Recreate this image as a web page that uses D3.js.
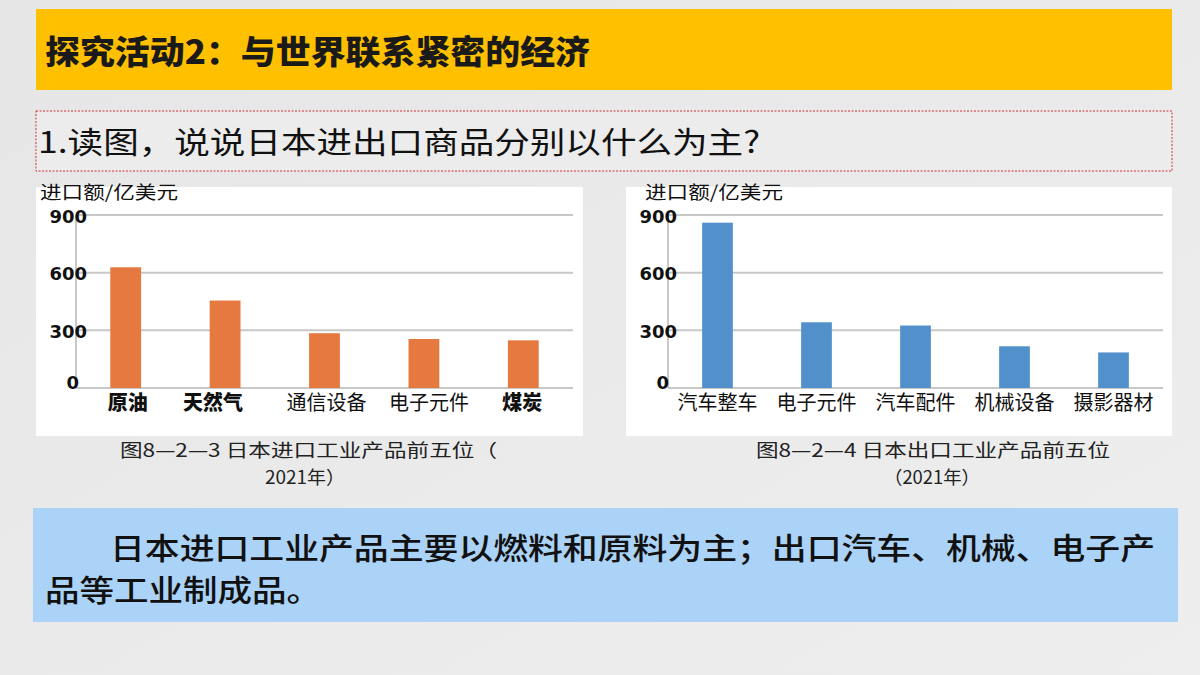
<!DOCTYPE html>
<html>
<head>
<meta charset="utf-8">
<script src="https://cdn.jsdelivr.net/npm/d3@7"></script>
<style>
  html, body { margin: 0; padding: 0; background: #ebebeb; }
  svg { display: block; }
</style>
</head>
<body>
<svg id="chart" width="1200" height="675"></svg>
<script>
// ---------- data ----------
const titleText = "探究活动2：与世界联系紧密的经济";
const questionText = "1.读图，说说日本进出口商品分别以什么为主?";
const yAxisTitle = "进口额/亿美元";
const yTicks = [0, 300, 600, 900];

const importCategories = ["原油", "天然气", "通信设备", "电子元件", "煤炭"];
const importValues = [628, 455, 285, 255, 248];
const importBold = [true, true, false, false, true];

const exportCategories = ["汽车整车", "电子元件", "汽车配件", "机械设备", "摄影器材"];
const exportValues = [860, 342, 325, 217, 185];

const importCaption = ["图8—2—3 日本进口工业产品前五位（", "2021年）"];
const exportCaption = ["图8—2—4 日本出口工业产品前五位", "（2021年）"];
const answerLines = ["日本进口工业产品主要以燃料和原料为主；出口汽车、机械、电子产", "品等工业制成品。"];

// ---------- drawing ----------
const svg = d3.select("#chart");
const CJK = "'Noto Sans CJK SC', 'Noto Sans', sans-serif";

// background gradient
const defs = svg.append("defs");
const bg = defs.append("linearGradient").attr("id", "bg").attr("x1", 0).attr("y1", 0).attr("x2", 1).attr("y2", 1);
bg.append("stop").attr("offset", "0%").attr("stop-color", "#e6e6e6");
bg.append("stop").attr("offset", "100%").attr("stop-color", "#eeeeee");
svg.append("rect").attr("width", 1200).attr("height", 675).attr("fill", "url(#bg)");

// title bar
svg.append("rect").attr("x", 36).attr("y", 9).attr("width", 1136).attr("height", 81).attr("fill", "#FFC000");
svg.append("text").attr("x", 45).attr("y", 64)
  .attr("font-family", CJK).attr("font-weight", 900).attr("font-size", 33)
  .attr("fill", "#1a1a1a").attr("textLength", 545).attr("lengthAdjust", "spacingAndGlyphs")
  .text(titleText);

// question box
svg.append("rect").attr("x", 36).attr("y", 111).attr("width", 1136).attr("height", 60)
  .attr("fill", "#ececec").attr("stroke", "#d0303a").attr("stroke-width", 1).attr("stroke-dasharray", "2,1.5");
svg.append("text").attr("x", 38).attr("y", 153)
  .attr("font-family", CJK).attr("font-size", 30).attr("fill", "#111")
  .attr("textLength", 722).attr("lengthAdjust", "spacingAndGlyphs")
  .text(questionText);

function drawChart(opts) {
  const g = svg.append("g");
  // panel
  g.append("rect").attr("x", opts.panel[0]).attr("y", 187).attr("width", opts.panel[1] - opts.panel[0]).attr("height", 249)
    .attr("fill", "#ffffff");

  const x = d3.scaleBand().domain(opts.categories).range([opts.plot[0], opts.plot[1]]).padding(0);
  const y = d3.scaleLinear().domain([0, 900]).range([388, 215]);

  // gridlines
  g.append("g").selectAll("line").data(yTicks).join("line")
    .attr("x1", opts.plot[0]).attr("x2", opts.plot[1])
    .attr("y1", d => y(d)).attr("y2", d => y(d))
    .attr("stroke", "#c8c8c8").attr("stroke-width", 2);
  // y axis line
  g.append("line").attr("x1", opts.plot[0]).attr("x2", opts.plot[0])
    .attr("y1", y(900)).attr("y2", y(0)).attr("stroke", "#c8c8c8").attr("stroke-width", 2);

  // y axis tick labels via d3 axis
  const axis = d3.axisLeft(y).tickValues(yTicks).tickSize(0).tickPadding(0);
  const ag = g.append("g").attr("transform", `translate(${opts.tickX},0)`).call(axis);
  ag.select(".domain").remove();
  ag.selectAll("text")
    .attr("font-family", "'DejaVu Sans', sans-serif").attr("font-weight", "bold").attr("font-size", 18)
    .attr("fill", "#111")
    .attr("dy", d => d === 0 ? "0.05em" : "0.4em")
    .attr("dx", d => d === 0 ? -8 : 0);

  // bars
  const bw = x.bandwidth() * 0.31;
  g.append("g").selectAll("rect").data(opts.values).join("rect")
    .attr("x", (d, i) => x(opts.categories[i]) + x.bandwidth() / 2 - bw / 2)
    .attr("width", bw)
    .attr("y", d => y(d))
    .attr("height", d => y(0) - y(d))
    .attr("fill", opts.color);

  // category labels
  g.append("g").selectAll("text").data(opts.categories).join("text")
    .attr("x", (d, i) => x(d) + x.bandwidth() / 2 + (opts.labelDx ? opts.labelDx[i] : 0))
    .attr("y", 410)
    .attr("text-anchor", "middle")
    .attr("font-family", CJK)
    .attr("font-weight", (d, i) => opts.bold && opts.bold[i] ? 900 : 400)
    .attr("font-size", 20)
    .attr("fill", "#111")
    .text(d => d);

  // y title
  g.append("text").attr("x", opts.titleX).attr("y", 199)
    .attr("font-family", CJK).attr("font-size", 18).attr("fill", "#111")
    .attr("textLength", 138).attr("lengthAdjust", "spacingAndGlyphs")
    .text(yAxisTitle);

  // caption
  g.append("g").selectAll("text").data(opts.caption).join("text")
    .attr("x", (d, i) => opts.captionX[i])
    .attr("y", (d, i) => 457 + i * 27)
    .attr("font-family", CJK).attr("font-size", 18).attr("fill", "#222")
    .attr("textLength", (d, i) => opts.captionW[i]).attr("lengthAdjust", "spacingAndGlyphs")
    .text(d => d);
}

drawChart({
  panel: [36, 583], plot: [76, 573], tickX: 87,
  categories: importCategories, values: importValues, bold: importBold,
  labelDx: [2, -12, 2, 5, -1],
  color: "#E6793F", titleX: 40,
  caption: importCaption, captionX: [120, 265], captionW: [377, 80]
});
drawChart({
  panel: [626, 1172], plot: [668, 1163], tickX: 677,
  categories: exportCategories, values: exportValues,
  color: "#5190CA", titleX: 645,
  caption: exportCaption, captionX: [756, 884], captionW: [354, 96]
});

// answer box
svg.append("rect").attr("x", 33).attr("y", 508).attr("width", 1145).attr("height", 114).attr("fill", "#ABD3F7");
svg.append("text").attr("x", 110).attr("y", 559)
  .attr("font-family", CJK).attr("font-size", 30).attr("font-weight", 500).attr("fill", "#111")
  .attr("textLength", 1045).attr("lengthAdjust", "spacingAndGlyphs")
  .text(answerLines[0]);
svg.append("text").attr("x", 45).attr("y", 601)
  .attr("font-family", CJK).attr("font-size", 30).attr("font-weight", 500).attr("fill", "#111")
  .attr("textLength", 276).attr("lengthAdjust", "spacingAndGlyphs")
  .text(answerLines[1]);
</script>
</body>
</html>
